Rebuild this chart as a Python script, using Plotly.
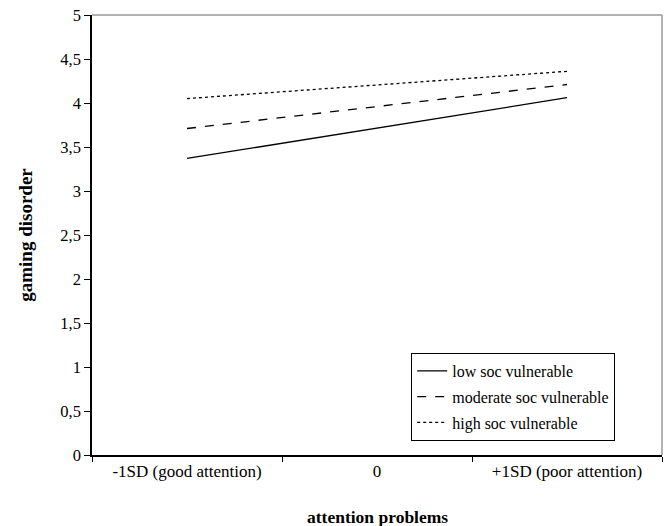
import plotly.graph_objects as go

categories = ["-1SD (good attention)", "0", "+1SD (poor attention)"]
low_soc = [3.37, None, 4.06]
moderate_soc = [3.71, None, 4.21]
high_soc = [4.05, None, 4.36]
series_names = ["low soc vulnerable", "moderate soc vulnerable", "high soc vulnerable"]
y_ticks = [0, 0.5, 1, 1.5, 2, 2.5, 3, 3.5, 4, 4.5, 5]

FONT = "Liberation Serif, Times New Roman, serif"

fig = go.Figure()
for i, (vals, name, dash) in enumerate(zip([low_soc, moderate_soc, high_soc], series_names, ["solid", "dash", "dot"])):
    fig.add_trace(go.Scatter(
        x=categories, y=vals, name=name, mode="lines", connectgaps=True,
        line=dict(color="black", width=1.3, dash=dash),
        legendgroup=f"g{i}",
    ))

fig.update_layout(
    width=667, height=526,
    margin=dict(l=92, r=5, t=15, b=71),
    paper_bgcolor="white", plot_bgcolor="white",
    separators=",.",
    font=dict(family=FONT, size=16, color="black"),
    showlegend=True,
    legend=dict(
        x=0.56, y=0.232, xanchor="left", yanchor="top",
        bordercolor="black", borderwidth=1, bgcolor="white",
        font=dict(family=FONT, size=16, color="black"),
        traceorder="grouped", tracegroupgap=2,
    ),
    xaxis=dict(
        type="category", range=[-0.5, 2.5], tickson="boundaries",
        ticks="outside", ticklen=5, tickcolor="black",
        showline=True, linecolor="black", linewidth=1.5,
        showgrid=False, zeroline=False, automargin=False,
        tickfont=dict(family=FONT, size=17), ticklabeloverflow="allow",
    ),
    yaxis=dict(
        range=[0, 5], tickvals=y_ticks,
        ticks="outside", ticklen=6, tickcolor="black",
        showline=True, linecolor="black", linewidth=1.5,
        showgrid=False, zeroline=False, automargin=False,
        tickfont=dict(family=FONT, size=16.5), ticklabeloverflow="allow",
    ),
    annotations=[
        dict(text="<b>gaming disorder</b>", xref="paper", yref="paper", x=-0.118, y=0.5,
             textangle=-90, showarrow=False, xanchor="center", yanchor="middle",
             font=dict(family=FONT, size=19)),
        dict(text="<b>attention problems</b>", xref="paper", yref="paper", x=0.5, y=-0.141,
             showarrow=False, xanchor="center", yanchor="middle",
             font=dict(family=FONT, size=17.5)),
    ],
    shapes=[
        dict(type="line", xref="paper", yref="paper", x0=0, x1=1, y0=1, y1=1, line=dict(color="#999999", width=1.5)),
        dict(type="line", xref="paper", yref="paper", x0=1, x1=1, y0=0, y1=1, line=dict(color="#999999", width=1.5)),
    ],
)

fig.write_html(
    "out.html",
    config={"displayModeBar": False},
    post_script="document.body.style.margin='0';document.body.style.overflow='hidden';",
)
